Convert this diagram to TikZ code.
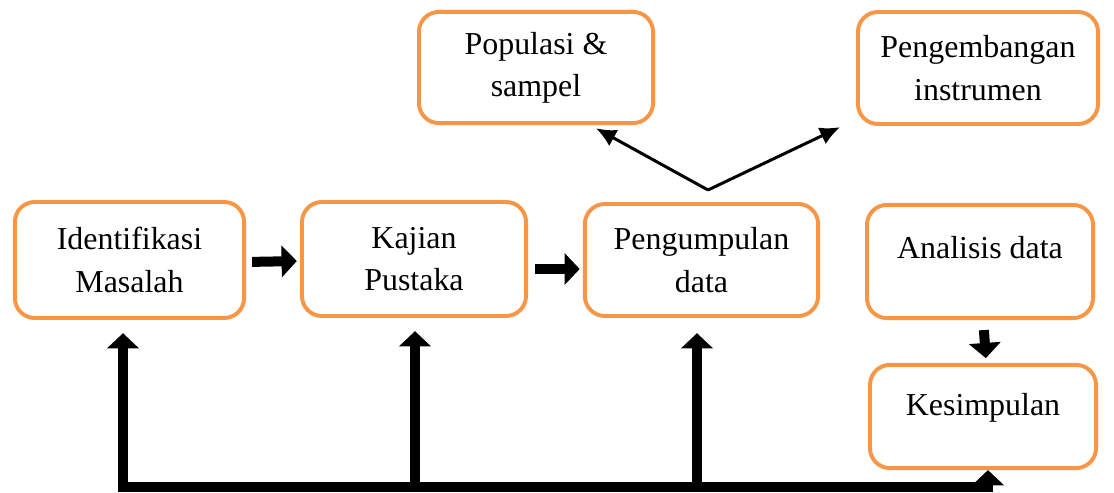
\documentclass[tikz,border=0pt]{standalone}
\usepackage{fontspec}
\setmainfont{Liberation Serif}
\usepackage{tikz}
\usetikzlibrary{arrows.meta,positioning}
\definecolor{boxorange}{HTML}{F79646}
\tikzset{>=latex}
\tikzset{
  stage/.style={draw=boxorange, line width=2.8pt, rounded corners=0.5cm,
    align=center, inner sep=2pt, font=\fontsize{22.7}{30}\selectfont},
  bigarrow/.style={line width=0.25cm, -{Triangle[length=0.38cm,width=0.78cm]}},
  thinarrow/.style={line width=0.075cm, -{Latex[length=0.5cm,width=0.46cm]}},
  busline/.style={line width=0.25cm, line cap=rect}
}

\begin{document}
\begin{tikzpicture}[x=0.025cm,y=-0.025cm]

\useasboundingbox (0,0) rectangle (1114,493);

% boxes
\node[stage, minimum width=5.73cm, minimum height=2.9cm] (ident) at (129.5,260) {Identifikasi\\Masalah};
\node[stage, minimum width=5.6cm, minimum height=2.85cm] (kajian) at (414,259) {Kajian\\Pustaka};
\node[stage, minimum width=5.83cm, minimum height=2.8cm] (kumpul) at (701.5,260) {Pengumpulan\\data};
\node[stage, minimum width=5.65cm, minimum height=2.83cm, text depth=0.71cm] (analisis) at (980,261.5) {Analisis data};
\node[stage, minimum width=5.65cm, minimum height=2.58cm, text depth=0.58cm] (simpul) at (983,416.5) {Kesimpulan};
\node[stage, minimum width=5.85cm, minimum height=2.78cm] (populasi) at (536,67.5) {Populasi \&\\sampel};
\node[stage, minimum width=6cm, minimum height=2.8cm] (instrumen) at (978,68) {Pengembangan\\instrumen};

% flow arrows
\draw[bigarrow, shorten <=0.15cm, shorten >=0.08cm] ([yshift=-0.05cm]ident.east) -- ([yshift=-0.05cm]kajian.west -| kajian.west);
\draw[bigarrow, shorten <=0.18cm, shorten >=0.08cm] ([yshift=-0.25cm]kajian.east) -- ([yshift=-0.25cm]kajian.east -| kumpul.west);
\draw[bigarrow, shorten <=0.25cm, shorten >=0.12cm] ([xshift=0.08cm]analisis.south) -- ([xshift=0.08cm]simpul.north);

% branches to population and instrument
\coordinate (fork) at (708,190);
\draw[thinarrow] (fork) -- ([xshift=1.5cm,yshift=-0.08cm]populasi.south);
\draw[thinarrow] (fork) -- ([xshift=-0.4cm,yshift=-0.03cm]instrumen.south west);

% feedback bus
\coordinate (busL) at (123,487);
\coordinate (busR) at (988,487);
\draw[busline] (busL) -- (busR);
\draw[bigarrow, shorten >=0.33cm] (busL) -- (busL |- ident.south);
\draw[bigarrow, shorten >=0.33cm] (busL -| 415,0) -- (415,0 |- kajian.south);
\draw[bigarrow, shorten >=0.38cm] (busL -| 697,0) -- (697,0 |- kumpul.south);
\draw[bigarrow] (busR) -- (busR |- simpul.south);

\end{tikzpicture}
\end{document}
